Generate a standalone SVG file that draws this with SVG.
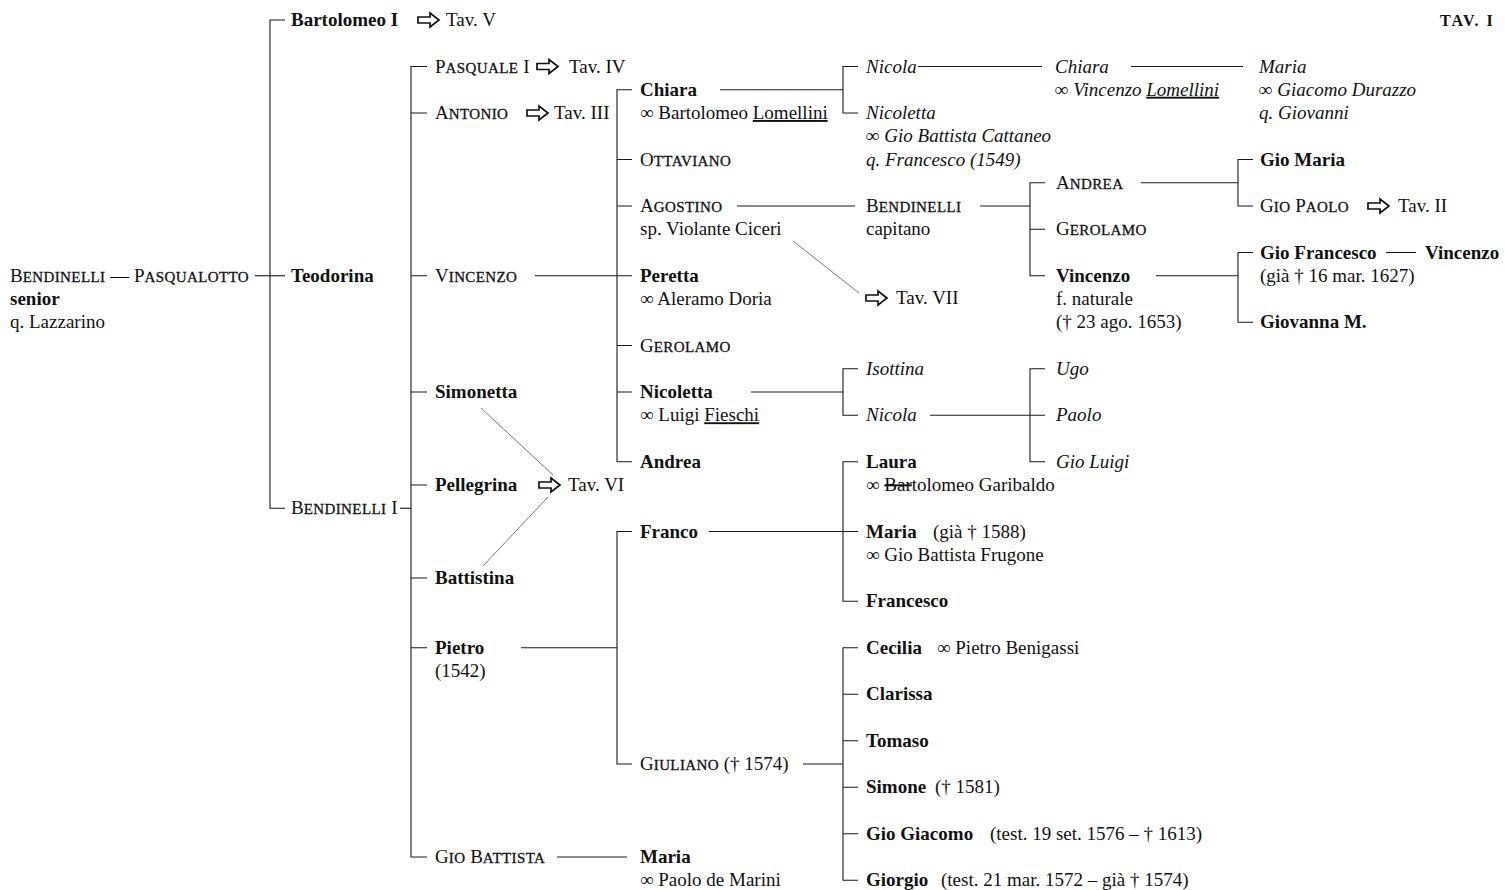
<svg xmlns="http://www.w3.org/2000/svg" xmlns:xlink="http://www.w3.org/1999/xlink" width="1505" height="890" viewBox="0 0 1505 890">
<style>
text{font-family:"Liberation Serif","Times New Roman",serif;font-size:19px;fill:#111}
.b{font-weight:bold}
.i{font-style:italic}
.sc{font-size:15px;letter-spacing:0.4px;stroke:#111;stroke-width:0.3}
.u{text-decoration:underline}
.s{text-decoration:line-through}
.tav{font-size:16px;letter-spacing:2px;font-weight:bold}
#connectors path{stroke:#1a1a1a;stroke-width:1.1;fill:none}
#connectors .diag{stroke:#555;stroke-width:0.8}
.arr{fill:#fff;stroke:#111;stroke-width:1.7;stroke-linejoin:miter}
</style>
<defs>
<path id="arr" class="arr" d="M0,-3 H12 V-7 L21,0 L12,7 V3 H0 Z"/>
</defs>
<rect width="1505" height="890" fill="#fff"/>

<g id="connectors">
<path d="M255,275.75 H285"/>
<path d="M285,20 H270 V508.25 H285"/>
<path d="M400,508.25 H411"/>
<path d="M427,66.5 H411 V857 H427 M411,113 H427 M411,275.75 H427 M411,392 H427 M411,485 H427 M411,578 H427 M411,647.75 H427"/>
<path d="M535,275.75 H617"/>
<path d="M632,89.75 H617 V461.75 H632 M617,159.5 H632 M617,206 H632 M617,275.75 H632 M617,345.5 H632 M617,392 H632"/>
<path d="M521,647.75 H617"/>
<path d="M632,531.5 H617 V764 H632"/>
<path d="M557,857 H627"/>
<path d="M720,89.75 H843"/>
<path d="M858,66.5 H843 V113 H858"/>
<path d="M918,66.5 H1042"/>
<path d="M1131,66.5 H1243"/>
<path d="M737,206 H855"/>
<path d="M980,206 H1030"/>
<path d="M1045,182.75 H1030 V275.75 H1045 M1030,229.25 H1045"/>
<path d="M1141,182.75 H1238"/>
<path d="M1253,159.5 H1238 V206 H1253"/>
<path d="M1156,275.75 H1238"/>
<path d="M1253,252.5 H1238 V322.25 H1253"/>
<path d="M1386,252.5 H1416"/>
<path d="M751,392 H843"/>
<path d="M858,368.75 H843 V415.25 H858"/>
<path d="M930,415.25 H1045"/>
<path d="M1045,368.75 H1030 V461.75 H1045"/>
<path d="M709,531.5 H858"/>
<path d="M858,461.75 H843 V601.25 H858"/>
<path d="M803,764 H843"/>
<path d="M858,647.75 H843 V880.25 H858 M843,694.25 H858 M843,740.75 H858 M843,787.25 H858 M843,833.75 H858"/>
<path class="diag" d="M481,408 L553,475"/>
<path class="diag" d="M483,566 L548,497"/>
<path class="diag" d="M793,241 L859,293"/>
</g>

<g id="title"><text class="tav" x="1440" y="26">TAV. I</text></g>

<g id="n-root">
<text x="10" y="281.75">B<tspan class="sc">ENDINELLI</tspan> — P<tspan class="sc">ASQUALOTTO</tspan></text>
<text class="b" x="10" y="305">senior</text>
<text x="10" y="328.25">q. Lazzarino</text>
</g>

<g id="n-bartolomeo-i">
<text class="b" x="291" y="26">Bartolomeo I</text>
<use xlink:href="#arr" href="#arr" x="418" y="20"/>
<text x="446" y="26">Tav. V</text>
</g>
<g id="n-teodorina"><text class="b" x="291" y="281.75">Teodorina</text></g>
<g id="n-bendinelli-i"><text x="291" y="514.25">B<tspan class="sc">ENDINELLI</tspan> I</text></g>

<g id="n-pasquale-i">
<text x="435" y="72.5">P<tspan class="sc">ASQUALE</tspan> I</text>
<use xlink:href="#arr" href="#arr" x="537" y="66.5"/>
<text x="569" y="72.5">Tav. IV</text>
</g>
<g id="n-antonio">
<text x="435" y="119">A<tspan class="sc">NTONIO</tspan></text>
<use xlink:href="#arr" href="#arr" x="527" y="113"/>
<text x="554" y="119">Tav. III</text>
</g>
<g id="n-vincenzo"><text x="435" y="281.75">V<tspan class="sc">INCENZO</tspan></text></g>
<g id="n-simonetta"><text class="b" x="435" y="398">Simonetta</text></g>
<g id="n-pellegrina">
<text class="b" x="435" y="491">Pellegrina</text>
<use xlink:href="#arr" href="#arr" x="539" y="485"/>
<text x="568" y="491">Tav. VI</text>
</g>
<g id="n-battistina"><text class="b" x="435" y="584">Battistina</text></g>
<g id="n-pietro">
<text class="b" x="435" y="653.75">Pietro</text>
<text x="435" y="677">(1542)</text>
</g>
<g id="n-gio-battista"><text x="435" y="863">G<tspan class="sc">IO</tspan> B<tspan class="sc">ATTISTA</tspan></text></g>

<g id="n-chiara">
<text class="b" x="640" y="95.75">Chiara</text>
<text x="640" y="119">∞ Bartolomeo <tspan class="u">Lomellini</tspan></text>
</g>
<g id="n-ottaviano"><text x="640" y="165.5">O<tspan class="sc">TTAVIANO</tspan></text></g>
<g id="n-agostino">
<text x="640" y="212">A<tspan class="sc">GOSTINO</tspan></text>
<text x="640" y="235.25">sp. Violante Ciceri</text>
</g>
<g id="n-tav-vii">
<use xlink:href="#arr" href="#arr" x="866" y="298"/>
<text x="896" y="304">Tav. VII</text>
</g>
<g id="n-peretta">
<text class="b" x="640" y="281.75">Peretta</text>
<text x="640" y="305">∞ Aleramo Doria</text>
</g>
<g id="n-gerolamo-1"><text x="640" y="351.5">G<tspan class="sc">EROLAMO</tspan></text></g>
<g id="n-nicoletta">
<text class="b" x="640" y="398">Nicoletta</text>
<text x="640" y="421.25">∞ Luigi <tspan class="u">Fieschi</tspan></text>
</g>
<g id="n-andrea-1"><text class="b" x="640" y="467.75">Andrea</text></g>
<g id="n-franco"><text class="b" x="640" y="537.5">Franco</text></g>
<g id="n-giuliano"><text x="640" y="770">G<tspan class="sc">IULIANO</tspan> († 1574)</text></g>
<g id="n-maria-3">
<text class="b" x="640" y="863">Maria</text>
<text x="640" y="886.25">∞ Paolo de Marini</text>
</g>

<g id="n-nicola-1"><text class="i" x="866" y="72.5">Nicola</text></g>
<g id="n-nicoletta-2">
<text class="i" x="866" y="119">Nicoletta</text>
<text class="i" x="866" y="142.25">∞ Gio Battista Cattaneo</text>
<text class="i" x="866" y="165.5">q. Francesco (1549)</text>
</g>
<g id="n-chiara-2">
<text class="i" x="1055" y="72.5">Chiara</text>
<text class="i" x="1055" y="95.75">∞ Vincenzo <tspan class="u">Lomellini</tspan></text>
</g>
<g id="n-maria-durazzo">
<text class="i" x="1259" y="72.5">Maria</text>
<text class="i" x="1259" y="95.75">∞ Giacomo Durazzo</text>
<text class="i" x="1259" y="119">q. Giovanni</text>
</g>

<g id="n-bendinelli-capitano">
<text x="866" y="212">B<tspan class="sc">ENDINELLI</tspan></text>
<text x="866" y="235.25">capitano</text>
</g>
<g id="n-andrea-2"><text x="1056" y="188.75">A<tspan class="sc">NDREA</tspan></text></g>
<g id="n-gerolamo-2"><text x="1056" y="235.25">G<tspan class="sc">EROLAMO</tspan></text></g>
<g id="n-vincenzo-2">
<text class="b" x="1056" y="281.75">Vincenzo</text>
<text x="1056" y="305">f. naturale</text>
<text x="1056" y="328.25">(† 23 ago. 1653)</text>
</g>
<g id="n-gio-maria"><text class="b" x="1260" y="165.5">Gio Maria</text></g>
<g id="n-gio-paolo">
<text x="1260" y="212">G<tspan class="sc">IO</tspan> P<tspan class="sc">AOLO</tspan></text>
<use xlink:href="#arr" href="#arr" x="1368" y="206"/>
<text x="1398" y="212">Tav. II</text>
</g>
<g id="n-gio-francesco">
<text class="b" x="1260" y="258.5">Gio Francesco</text>
<text x="1260" y="281.75">(già †  16 mar. 1627)</text>
</g>
<g id="n-vincenzo-3"><text class="b" x="1425" y="258.5">Vincenzo</text></g>
<g id="n-giovanna"><text class="b" x="1260" y="328.25">Giovanna M.</text></g>

<g id="n-isottina"><text class="i" x="866" y="374.75">Isottina</text></g>
<g id="n-nicola-2"><text class="i" x="866" y="421.25">Nicola</text></g>
<g id="n-ugo"><text class="i" x="1056" y="374.75">Ugo</text></g>
<g id="n-paolo"><text class="i" x="1056" y="421.25">Paolo</text></g>
<g id="n-gio-luigi"><text class="i" x="1056" y="467.75">Gio Luigi</text></g>

<g id="n-laura">
<text class="b" x="866" y="467.75">Laura</text>
<text x="866" y="491">∞ <tspan class="s">Bar</tspan>tolomeo Garibaldo</text>
</g>
<g id="n-maria-2">
<text x="866" y="537.5"><tspan class="b">Maria</tspan><tspan x="933">(già † 1588)</tspan></text>
<text x="866" y="560.75">∞ Gio Battista Frugone</text>
</g>
<g id="n-francesco"><text class="b" x="866" y="607.25">Francesco</text></g>

<g id="n-cecilia"><text x="866" y="653.75"><tspan class="b">Cecilia</tspan><tspan x="937">∞ Pietro Benigassi</tspan></text></g>
<g id="n-clarissa"><text class="b" x="866" y="700.25">Clarissa</text></g>
<g id="n-tomaso"><text class="b" x="866" y="746.75">Tomaso</text></g>
<g id="n-simone"><text x="866" y="793.25"><tspan class="b">Simone</tspan><tspan x="935">(† 1581)</tspan></text></g>
<g id="n-gio-giacomo"><text x="866" y="839.75"><tspan class="b">Gio Giacomo</tspan><tspan x="990">(test. 19 set. 1576 – † 1613)</tspan></text></g>
<g id="n-giorgio"><text x="866" y="886.25"><tspan class="b">Giorgio</tspan><tspan x="941">(test. 21 mar. 1572 – già † 1574)</tspan></text></g>
</svg>
